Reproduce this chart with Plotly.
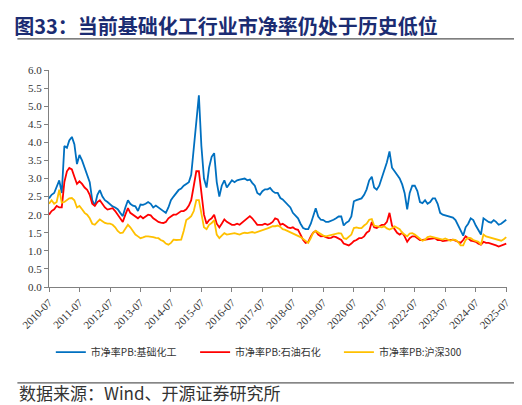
import pandas as pd
import plotly.graph_objects as go

# monthly PB, 2010-07 .. 2025-07
pb_chem = [
    2.45, 2.55, 2.60, 2.75, 2.95, 2.60, 3.90, 3.85, 4.05, 4.15, 3.95, 3.40,
    3.65, 3.50, 3.30, 3.05, 2.90, 2.40, 2.25, 2.55, 2.68, 2.50, 2.40, 2.35,
    2.28, 2.23, 2.20, 2.15, 2.05, 1.96, 2.20, 2.40, 2.30, 2.25, 2.23, 2.10,
    2.28, 2.27, 2.30, 2.35, 2.30, 2.20, 2.25, 2.20, 2.15, 2.10, 2.05, 2.20,
    2.40, 2.50, 2.60, 2.68, 2.72, 2.80, 2.85, 2.90, 3.10, 3.80, 4.40, 5.30,
    3.90, 3.00, 2.75, 3.30, 3.60, 3.70, 2.90, 2.50, 2.80, 2.95, 2.75, 2.85,
    2.95, 2.90, 2.95, 2.97, 2.98, 3.00, 2.95, 2.97, 2.88, 2.80, 2.60, 2.55,
    2.65, 2.70, 2.70, 2.74, 2.65, 2.60, 2.60, 2.46, 2.42, 2.35, 2.28, 2.20,
    2.05, 1.96, 1.90, 1.75, 1.63, 1.60, 1.60, 1.75, 1.95, 2.18, 1.95, 1.86,
    1.85, 1.80, 1.80, 1.82, 1.86, 1.90, 1.95, 1.95, 1.70, 1.78, 1.82, 1.95,
    2.37, 2.40, 2.42, 2.45, 2.55, 2.70, 2.95, 3.05, 2.75, 2.69, 2.80, 3.00,
    3.20, 3.45, 3.75, 3.30, 3.20, 3.10, 3.00, 2.83, 2.60, 2.15, 2.60, 2.80,
    2.80, 2.65, 2.35, 2.32, 2.40, 2.30, 2.35, 2.45, 2.45, 2.30, 2.05, 2.00,
    1.98, 1.96, 1.95, 1.92, 1.85, 1.70, 1.55, 1.42, 1.65, 1.75, 1.90, 1.85,
    1.70, 1.58, 1.45, 1.90, 1.85, 1.80, 1.78, 1.85, 1.80, 1.72, 1.75, 1.80,
    1.86,
]
pb_oil = [
    2.00, 2.10, 2.15, 2.24, 2.20, 2.20, 2.90, 3.20, 3.29, 3.25, 3.05, 2.85,
    2.92, 2.85, 2.75, 2.69, 2.55, 2.30, 2.24, 2.35, 2.40, 2.30, 2.20, 2.14,
    2.15, 2.18, 2.10, 2.00, 1.90, 1.80, 2.00, 2.18, 2.05, 2.00, 1.96, 1.90,
    1.96, 1.90, 1.95, 2.00, 1.98, 1.90, 1.85, 1.80, 1.78, 1.77, 1.80, 1.90,
    1.95, 2.00, 2.00, 2.05, 2.10, 2.10, 2.15, 2.25, 2.40, 2.80, 3.20, 3.20,
    2.60, 2.00, 1.75, 1.85, 1.90, 2.00, 1.75, 1.65, 1.75, 1.87, 1.80, 1.75,
    1.72, 1.72, 1.75, 1.72, 1.78, 1.86, 1.90, 1.96, 1.90, 1.80, 1.72, 1.72,
    1.72, 1.75, 1.72, 1.75, 1.80, 1.90, 1.87, 1.72, 1.75, 1.70, 1.65, 1.63,
    1.65, 1.60, 1.58, 1.45, 1.30, 1.22, 1.25, 1.40, 1.50, 1.55, 1.45, 1.40,
    1.41, 1.38, 1.35, 1.36, 1.40, 1.38, 1.35, 1.30, 1.20, 1.17, 1.15, 1.20,
    1.27, 1.30, 1.35, 1.35, 1.40, 1.50, 1.55, 1.80, 1.65, 1.63, 1.68, 1.72,
    1.72, 1.80, 2.05, 1.70, 1.60, 1.50, 1.45, 1.50, 1.40, 1.25, 1.35, 1.40,
    1.40, 1.35, 1.30, 1.30, 1.31, 1.33, 1.35, 1.36, 1.35, 1.30, 1.30, 1.27,
    1.28, 1.30, 1.30, 1.31, 1.28, 1.25, 1.22, 1.30, 1.40, 1.35, 1.28, 1.27,
    1.25, 1.20, 1.17, 1.25, 1.22, 1.22, 1.20, 1.18, 1.15, 1.12, 1.15, 1.17,
    1.20,
]
pb_hs300 = [
    2.30, 2.40, 2.30, 2.35, 2.69, 2.33, 2.35, 2.40, 2.45, 2.46, 2.40, 2.20,
    2.24, 2.15, 2.05, 2.00, 1.90, 1.75, 1.72, 1.80, 1.87, 1.82, 1.77, 1.75,
    1.75, 1.72, 1.65, 1.55, 1.49, 1.50, 1.60, 1.72, 1.65, 1.55, 1.45, 1.40,
    1.35, 1.37, 1.40, 1.40, 1.40, 1.38, 1.36, 1.35, 1.30, 1.27, 1.20, 1.17,
    1.22, 1.31, 1.30, 1.31, 1.31, 1.55, 1.85, 1.90, 1.96, 2.10, 2.40, 2.40,
    2.00, 1.65, 1.60, 1.72, 1.77, 1.85, 1.45, 1.35, 1.42, 1.49, 1.45, 1.47,
    1.49, 1.49, 1.47, 1.45, 1.48, 1.50, 1.49, 1.50, 1.52, 1.50, 1.52, 1.55,
    1.58, 1.60, 1.62, 1.65, 1.68, 1.68, 1.70, 1.66, 1.60, 1.58, 1.55, 1.50,
    1.49, 1.45, 1.42, 1.38, 1.33, 1.27, 1.22, 1.35, 1.50, 1.55, 1.50, 1.45,
    1.42, 1.40, 1.42, 1.45, 1.47, 1.48, 1.49, 1.48, 1.35, 1.33, 1.38, 1.45,
    1.63, 1.65, 1.63, 1.63, 1.70, 1.75, 1.86, 1.88, 1.70, 1.68, 1.66, 1.65,
    1.68, 1.62, 1.59, 1.62, 1.68, 1.65, 1.60, 1.50, 1.45, 1.40, 1.48, 1.49,
    1.45, 1.40, 1.35, 1.28, 1.31, 1.38, 1.40, 1.38, 1.35, 1.35, 1.32, 1.31,
    1.34, 1.30, 1.28, 1.31, 1.30, 1.25, 1.15, 1.15, 1.30, 1.36, 1.35, 1.30,
    1.28, 1.25, 1.17, 1.45, 1.40, 1.38, 1.36, 1.33, 1.30, 1.30, 1.28, 1.32,
    1.38,
]
series_names = ["市净率PB:基础化工", "市净率PB:石油石化", "市净率PB:沪深300"]
colors = ["#0070C0", "#FF0000", "#FFC000"]
tick_labels = [f"{y}-07" for y in range(2010, 2026)]

dates = pd.date_range("2010-07-01", periods=len(pb_chem), freq="MS")

serif = "Liberation Serif, Times New Roman, serif"
cjk = "Noto Sans CJK SC"

fig = go.Figure()
legend_ids = ["legend", "legend2", "legend3"]
for name, vals, c, lg in zip(series_names, [pb_chem, pb_oil, pb_hs300], colors, legend_ids):
    fig.add_trace(go.Scatter(x=dates, y=vals, name=name, mode="lines",
                             line=dict(color=c, width=1.8), legend=lg))

fig.update_xaxes(
    range=["2010-07-01", "2025-07-10"],
    tickvals=[f"{y}-07-01" for y in range(2010, 2026)],
    ticktext=tick_labels, tickangle=-45,
    showline=True, linecolor="#808080", linewidth=1,
    ticks="outside", ticklen=4, tickcolor="#808080",
    showgrid=False, zeroline=False,
    tickfont=dict(family=serif, size=11, color="#333333"),
)
fig.update_yaxes(
    range=[0, 6], dtick=0.5, tickformat=".1f",
    showline=True, linecolor="#808080", linewidth=1,
    ticks="outside", ticklen=4, tickcolor="#808080",
    showgrid=False, zeroline=False,
    tickfont=dict(family=serif, size=11, color="#333333"),
)

leg_font = dict(family=cjk, size=10, color="#333333")
leg_common = dict(orientation="h", y=-0.30, yanchor="middle", xanchor="left",
                  font=leg_font, itemwidth=30, bgcolor="rgba(0,0,0,0)")

fig.update_layout(
    width=522, height=405,
    margin=dict(l=38, r=23, t=62, b=126),
    plot_bgcolor="white", paper_bgcolor="white",
    title=dict(text="<b>图33：当前基础化工行业市净率仍处于历史低位</b>",
               xref="container", yref="container", x=0.012, xanchor="left",
               y=0.953, yanchor="middle",
               font=dict(family=cjk, size=20, color="#1B2C72")),
    showlegend=True,
    legend=dict(x=0.004, **leg_common),
    legend2=dict(x=0.319, **leg_common),
    legend3=dict(x=0.633, **leg_common),
    annotations=[
        dict(text="数据来源：Wind、开源证券研究所",
             xref="paper", yref="paper", x=-0.07, y=-0.485, xanchor="left", yanchor="middle",
             showarrow=False, font=dict(family=cjk, size=17, color="#333333")),
    ],
    shapes=[
        dict(type="line", xref="paper", yref="paper", x0=-0.069, x1=1.037, y0=1.143, y1=1.143,
             line=dict(color="#555555", width=1.2)),
        dict(type="line", xref="paper", yref="paper", x0=-0.069, x1=1.037, y0=-0.442, y1=-0.442,
             line=dict(color="#333333", width=1)),
    ],
)

fig.write_html("out.html")
